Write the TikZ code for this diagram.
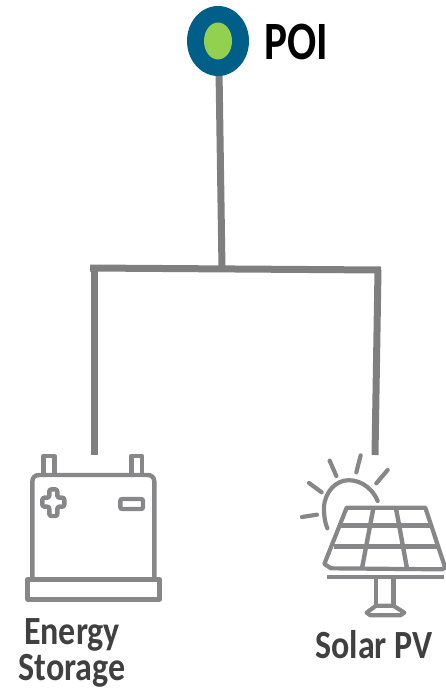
\documentclass[tikz,border=0pt]{standalone}
\usepackage{fontspec}
\setmainfont{Carlito}
\usetikzlibrary{shapes.geometric}
\definecolor{wire}{HTML}{7F7F7F}
\definecolor{icon}{HTML}{87878A}
\definecolor{poiblue}{HTML}{005F88}
\definecolor{poigreen}{HTML}{92D050}
\definecolor{labelgrey}{HTML}{404040}
\tikzset{
 wireline/.style={draw=wire,line width=7pt},
 iconline/.style={draw=icon,line width=4.4pt,line join=round},
 thinicon/.style={draw=icon,line width=4.2pt,line cap=round,line join=round},
 lbl/.style={inner sep=0pt,text=labelgrey,font=\fontsize{40}{36}\selectfont\bfseries,xscale=.85,align=center},
}
\begin{document}
\begin{tikzpicture}[x=1pt,y=-1pt]
\useasboundingbox (0,0) rectangle (446,691);
% connectors
\coordinate (tj) at (222,269);
\coordinate (hl) at (90,268);
\coordinate (hr) at (381,270);
\coordinate (cl) at (94,268);
\coordinate (cr) at (378,270);
\coordinate (bl) at (94,455);
\coordinate (br) at (375,455);
\coordinate (ptop) at (219,70);
\draw[wireline] (ptop) -- (tj);
\draw[wireline] (hl) -- (hr);
\draw[wireline] (cl) -- (bl);
\draw[wireline] (cr) -- (br);
% POI
\node[ellipse,fill=poiblue,inner sep=0pt,minimum width=62pt,minimum height=70pt] (poi) at (218,41) {};
\node[ellipse,fill=poigreen,inner sep=0pt,minimum width=28pt,minimum height=37pt] (poicore) at (218,41) {};
\node[inner sep=0pt,anchor=west,text=black,font=\fontsize{54}{54}\selectfont\bfseries,xscale=.8] (poilabel) at (264,42) {POI};
% battery
\begin{scope}[shift={(0,440)},x=.3333pt,y=-.3333pt]
\draw[iconline] (97,418) -- (97,125) .. controls (97,112) and (105,105) .. (118,105) -- (442,105) .. controls (455,105) and (463,112) .. (463,125) -- (463,418);
\draw[iconline] (83,418) rectangle (479,478);
\draw[iconline] (131,105) -- (131,48) -- (163,48) -- (163,105);
\draw[iconline] (394,105) -- (394,48) -- (426,48) -- (426,105);
\draw[draw=icon,line width=4.4pt,line join=round,rounded corners=2pt] (148,148) -- (172,148) -- (172,173) -- (193,173) -- (193,200) -- (172,200) -- (172,228) -- (148,228) -- (148,200) -- (127,200) -- (127,173) -- (148,173) -- cycle;
\draw[draw=icon,line width=4.4pt,rounded corners=2pt] (361,177) rectangle (429,207);
\end{scope}
% solar
\begin{scope}[shift={(281,440)},x=.3333pt,y=-.3333pt]
\draw[thinicon] (197,203) -- (433,203) -- (490,375) .. controls (493,384) and (490,388) .. (482,388) -- (150,385) -- (130,372) -- cycle;
\draw[iconline] (180,257) -- (450,257);
\draw[iconline] (160,320) -- (470,320);
\draw[iconline] (277,205) -- (243,385);
\draw[iconline] (345,205) -- (378,385);
\draw[iconline] (138,411) -- (488,411);
\draw[iconline] (285,414) -- (285,497);
\draw[iconline] (337,414) -- (337,497);
\draw[thinicon] (285,497) -- (337,497) -- (370,518) -- (358,526) -- (268,526) -- (257,518) -- cycle;
\draw[thinicon] (290,183) .. controls (270,135) and (225,115) .. (190,122) .. controls (150,130) and (125,175) .. (129,215) .. controls (130,235) and (133,250) .. (139,265);
\draw[thinicon] (146,62) -- (166,108);
\draw[thinicon] (239,46) -- (226,97);
\draw[thinicon] (320,90) -- (286,130);
\draw[thinicon] (84,129) -- (122,157);
\draw[thinicon] (63,231) -- (108,224);
\end{scope}
% labels
\node[lbl] (storagelabel) at (72,653) {Energy\\Storage};
\node[lbl] (solar) at (374,645) {Solar PV};
\end{tikzpicture}
\end{document}
